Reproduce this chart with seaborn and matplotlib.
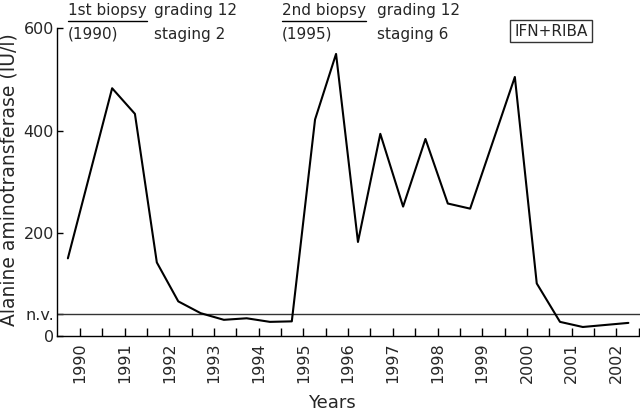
import matplotlib
matplotlib.use("Agg")
import matplotlib.pyplot as plt
from matplotlib.ticker import FixedLocator
import seaborn as sns
import pandas as pd

# Data
years = [1989.73, 1990.72, 1991.23, 1991.72, 1992.20, 1992.70, 1993.22, 1993.73,
         1994.25, 1994.74, 1995.26, 1995.73, 1996.22, 1996.72, 1997.23, 1997.73,
         1998.23, 1998.73, 1999.73, 2000.22, 2000.74, 2001.25, 2002.27]
alt = [151, 483, 433, 143, 67, 44, 31, 34, 27, 28, 422, 550, 183, 394, 252, 384,
       258, 248, 505, 102, 27, 17, 25]
normal_value = 43
year_labels = list(range(1990, 2003))

sns.set_theme(style="white")
plt.rcParams['font.family'] = ['DejaVu Sans']

df = pd.DataFrame({"Year": years, "ALT": alt})

fig = plt.figure(figsize=(6.4, 4.15), dpi=100)
ax = fig.add_axes([56.7 / 640, (415 - 335.7) / 415, 1 - 56.7 / 640, (335.7 - 28.3) / 415])

sns.lineplot(data=df, x="Year", y="ALT", sort=False, color="black", lw=1.5, ax=ax)
ax.axhline(normal_value, color="#333333", lw=1.0, zorder=1)

ax.set_xlim(1989.48, 2002.53)
ax.set_ylim(0, 600)

for s in ["top", "right"]:
    ax.spines[s].set_visible(False)
for s in ["left", "bottom"]:
    ax.spines[s].set_color("black")
    ax.spines[s].set_linewidth(1.0)

ax.xaxis.set_major_locator(FixedLocator(year_labels))
ax.set_xticklabels([str(y) for y in year_labels], rotation=90, fontsize=11.5)
ax.xaxis.set_minor_locator(FixedLocator([y + 0.5 for y in year_labels]))
ax.tick_params(axis="x", which="both", direction="in", length=6, width=1, color="black", pad=5, bottom=True)

ax.set_yticks([0, normal_value, 200, 400, 600])
ax.set_yticklabels(["0", "n.v.", "200", "400", "600"], fontsize=11.5)
ax.tick_params(axis="y", direction="in", length=4, width=1, color="black", pad=2, left=True)

ax.set_xlabel("")
ax.set_ylabel("")
fig.text(332 / 640, 1 - 403 / 415, "Years", ha="center", va="center", fontsize=13)
fig.text(9 / 640, 1 - 180 / 415, "Alanine aminotransferase (IU/l)", rotation=90,
         ha="center", va="center", fontsize=13.5)

def px(x, y):
    return x / 640, 1 - y / 415

fs = 11
for (bx, label, year, gx, stg) in [(68, "1st biopsy", "(1990)", 154, "staging 2"),
                                   (282, "2nd biopsy", "(1995)", 377, "staging 6")]:
    t = fig.text(*px(bx, 11), label, ha="left", va="center", fontsize=fs)
    fig.text(*px(bx, 34), year, ha="left", va="center", fontsize=fs)
    fig.text(*px(gx, 11), "grading 12", ha="left", va="center", fontsize=fs)
    fig.text(*px(gx, 34), stg, ha="left", va="center", fontsize=fs)
    fig.canvas.draw()
    bb = t.get_window_extent()
    x0 = bb.x0 / 640
    x1 = bb.x1 / 640
    fig.add_artist(plt.Line2D([x0, x1], [1 - 21 / 415, 1 - 21 / 415], color="black", lw=1.0))

fig.text(*px(551, 31), "IFN+RIBA", ha="center", va="center", fontsize=fs,
         bbox=dict(boxstyle="square,pad=0.25", fc="white", ec="#333333", lw=1.0))

fig.savefig("out.png", dpi=100)
